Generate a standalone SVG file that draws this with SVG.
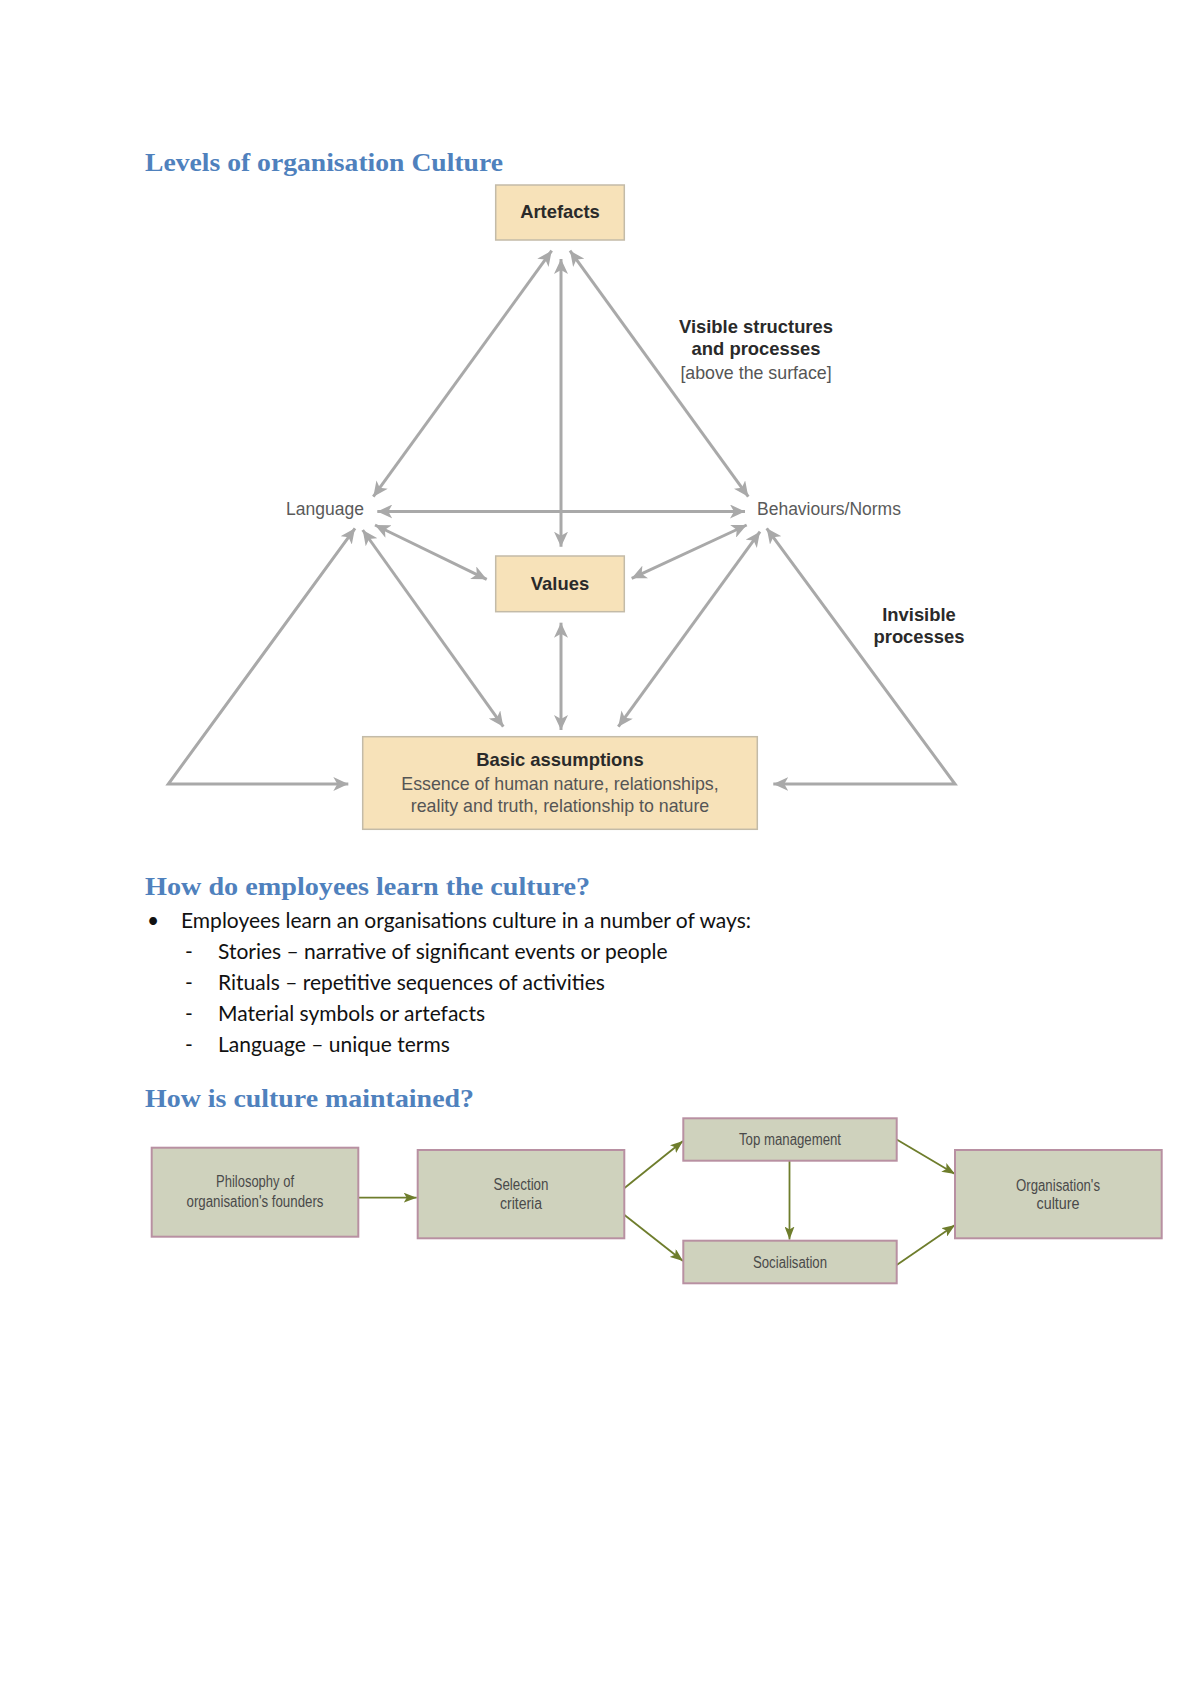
<svg xmlns="http://www.w3.org/2000/svg" width="1200" height="1697" viewBox="0 0 1200 1697">
<style>
.h{font-family:"Liberation Serif","DejaVu Serif",serif;font-weight:bold;font-size:26px;fill:#4f81bd}
.body{font-family:Lato,"Liberation Sans",sans-serif;font-size:21px;fill:#111}
.box{fill:#f7e2b9;stroke:#c3bba8;stroke-width:1.5}
.bt{font-family:"Liberation Sans",Arial,sans-serif;font-weight:bold;font-size:18.4px;fill:#2a2a2a;text-anchor:middle}
.nt{font-family:"Liberation Sans",Arial,sans-serif;font-size:17.8px;fill:#555;text-anchor:middle}
.lbl{font-family:"Liberation Sans",Arial,sans-serif;font-size:17.5px;fill:#5a5a5a}
.g{fill:none;stroke:#a9a9a9;stroke-width:3;marker-start:url(#ga);marker-end:url(#ga)}
.fb{fill:#cfd2bd;stroke:#b890a2;stroke-width:2}
.ft{font-family:"Liberation Sans",Arial,sans-serif;font-size:16px;fill:#4a4a4a;text-anchor:middle}
.fa{fill:none;stroke:#6e7d2c;stroke-width:1.8;marker-end:url(#oa)}
</style>
<defs>
<marker id="ga" markerUnits="userSpaceOnUse" markerWidth="16" markerHeight="14" refX="15" refY="7" orient="auto-start-reverse">
<path d="M0,0 L15,7 L0,14 L4,7 z" fill="#a9a9a9"/>
</marker>
<marker id="oa" markerUnits="userSpaceOnUse" markerWidth="14" markerHeight="10" refX="13" refY="5" orient="auto">
<path d="M0,0 L13,5 L0,10 L3,5 z" fill="#6e7d2c"/>
</marker>
</defs>
<rect width="1200" height="1697" fill="#ffffff"/>

<text class="h" x="145" y="171" textLength="358" lengthAdjust="spacingAndGlyphs">Levels of organisation Culture</text>

<g id="connectors-culture">
<path class="g" d="M551.7,250.7 L373.3,496.7"/>
<path class="g" d="M561,259 L561,546.7"/>
<path class="g" d="M570,250.7 L748.3,496.7"/>
<path class="g" d="M377.3,511.5 L745,511.5"/>
<path class="g" d="M375,525 L486.7,579.3"/>
<path class="g" d="M746.7,525 L631.7,578.3"/>
<path class="g" d="M362.7,530 L503.3,726.7"/>
<path class="g" d="M760,531.7 L618.3,726.7"/>
<path class="g" d="M561,622.7 L561,730"/>
<path class="g" d="M355,528.3 L168.3,784 L348.3,784"/>
<path class="g" d="M766.7,528.3 L955,784 L773.3,784"/>
</g>

<g id="artefacts">
<rect class="box" x="495.7" y="185" width="128.6" height="55"/>
<text class="bt" x="560" y="218">Artefacts</text>
</g>
<g id="values">
<rect class="box" x="495.7" y="556" width="128.6" height="55.7"/>
<text class="bt" x="560" y="590">Values</text>
</g>
<g id="basic-assumptions">
<rect class="box" x="362.7" y="736.7" width="394.6" height="92.6"/>
<text class="bt" x="560" y="766">Basic assumptions</text>
<text class="nt" x="560" y="790">Essence of human nature, relationships,</text>
<text class="nt" x="560" y="812">reality and truth, relationship to nature</text>
</g>
<g id="language">
<text class="lbl" x="286" y="515">Language</text>
</g>
<g id="behaviours">
<text class="lbl" x="757" y="515">Behaviours/Norms</text>
</g>
<g id="visible-label">
<text class="bt" x="756" y="333">Visible structures</text>
<text class="bt" x="756" y="355">and processes</text>
<text class="nt" x="756" y="379">[above the surface]</text>
</g>
<g id="invisible-label">
<text class="bt" x="919" y="621">Invisible</text>
<text class="bt" x="919" y="643">processes</text>
</g>

<text class="h" x="145" y="895" textLength="445" lengthAdjust="spacingAndGlyphs">How do employees learn the culture?</text>
<text class="body" x="147" y="928">•</text>
<text class="body" x="181" y="928">Employees learn an organisations culture in a number of ways:</text>
<text class="body" x="185" y="959">-</text>
<text class="body" x="218" y="959">Stories – narrative of significant events or people</text>
<text class="body" x="185" y="990">-</text>
<text class="body" x="218" y="990">Rituals – repetitive sequences of activities</text>
<text class="body" x="185" y="1021">-</text>
<text class="body" x="218" y="1021">Material symbols or artefacts</text>
<text class="body" x="185" y="1052">-</text>
<text class="body" x="218" y="1052">Language – unique terms</text>

<text class="h" x="145" y="1107" textLength="329" lengthAdjust="spacingAndGlyphs">How is culture maintained?</text>

<g id="connectors-flow">
<path class="fa" d="M358.3,1197.7 L416.7,1197.7"/>
<path class="fa" d="M624.5,1188 L683,1141"/>
<path class="fa" d="M624.5,1215 L683,1261"/>
<path class="fa" d="M789.5,1160.7 L789.5,1239.5"/>
<path class="fa" d="M896.7,1139.5 L955,1174"/>
<path class="fa" d="M896.7,1265 L955,1225"/>
</g>
<g id="philosophy">
<rect class="fb" x="151.7" y="1147.7" width="206.6" height="89"/>
<text class="ft" x="255" y="1187" textLength="78" lengthAdjust="spacingAndGlyphs">Philosophy of</text>
<text class="ft" x="255" y="1207" textLength="137" lengthAdjust="spacingAndGlyphs">organisation's founders</text>
</g>
<g id="selection">
<rect class="fb" x="417.7" y="1150" width="206.6" height="88.3"/>
<text class="ft" x="521" y="1190" textLength="55" lengthAdjust="spacingAndGlyphs">Selection</text>
<text class="ft" x="521" y="1209" textLength="42" lengthAdjust="spacingAndGlyphs">criteria</text>
</g>
<g id="top-management">
<rect class="fb" x="683.3" y="1118.3" width="213.4" height="42.4"/>
<text class="ft" x="790" y="1145" textLength="102" lengthAdjust="spacingAndGlyphs">Top management</text>
</g>
<g id="socialisation">
<rect class="fb" x="683.3" y="1240.7" width="213.4" height="42.6"/>
<text class="ft" x="790" y="1268" textLength="74" lengthAdjust="spacingAndGlyphs">Socialisation</text>
</g>
<g id="organisation-culture">
<rect class="fb" x="955" y="1150" width="206.7" height="88.3"/>
<text class="ft" x="1058" y="1191" textLength="84" lengthAdjust="spacingAndGlyphs">Organisation's</text>
<text class="ft" x="1058" y="1209" textLength="43" lengthAdjust="spacingAndGlyphs">culture</text>
</g>
</svg>
